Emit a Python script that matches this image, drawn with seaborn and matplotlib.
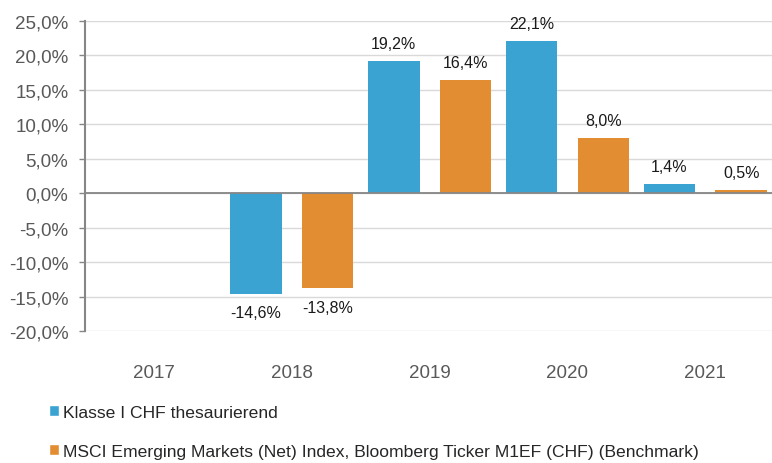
import matplotlib
matplotlib.use("Agg")
import matplotlib.pyplot as plt
import matplotlib.ticker as mticker
from matplotlib.patches import Patch
import seaborn as sns
import pandas as pd

years = ["2017", "2018", "2019", "2020", "2021"]
fund_name = "Klasse I CHF thesaurierend"
bench_name = "MSCI Emerging Markets (Net) Index, Bloomberg Ticker M1EF (CHF) (Benchmark)"
fund_values = [None, -14.6, 19.2, 22.1, 1.4]
bench_values = [None, -13.8, 16.4, 8.0, 0.5]

blue = "#3AA3D1"
orange = "#E38D33"

df = pd.DataFrame({
    "year": years * 2,
    "series": [fund_name] * len(years) + [bench_name] * len(years),
    "value": fund_values + bench_values,
})

sns.set_style("white")
plt.rcParams["font.family"] = ["Liberation Sans", "DejaVu Sans"]

fig = plt.figure(figsize=(7.72, 4.64), dpi=100)
ax = fig.add_axes([0.110, 0.284, 0.893, 0.669])

sns.barplot(data=df, x="year", y="value", hue="series", order=years,
            hue_order=[fund_name, bench_name], palette=[blue, orange],
            saturation=1, width=1.04, gap=0.28, linewidth=0,
            legend=False, ax=ax, zorder=2)

# data labels
for cont in ax.containers:
    for rect in cont:
        h = rect.get_height()
        if pd.isna(h):
            continue
        txt = f"{h:.1f}%".replace(".", ",")
        x = rect.get_x() + rect.get_width() / 2
        if h >= 0:
            ax.annotate(txt, (x, h), xytext=(0, 7), textcoords="offset points",
                        ha="center", va="bottom", fontsize=11.5, color="#1a1a1a")
        else:
            ax.annotate(txt, (x, h), xytext=(0, -8), textcoords="offset points",
                        ha="center", va="top", fontsize=11.5, color="#1a1a1a")

ax.set_ylim(-20, 25)
ax.set_xlim(-0.5, 4.5)
ax.yaxis.set_major_locator(mticker.MultipleLocator(5))
ax.yaxis.set_major_formatter(mticker.FuncFormatter(lambda v, p: f"{v:.1f}%".replace(".", ",")))
ax.grid(axis="y", color="#D9D9D9", linewidth=1)
ax.set_axisbelow(True)
ax.axhline(0, color="#868686", linewidth=1.3, zorder=3)

for s in ["top", "right", "bottom"]:
    ax.spines[s].set_visible(False)
ax.spines["left"].set_color("#868686")
ax.spines["left"].set_linewidth(1.5)

ax.tick_params(axis="y", left=True, length=4, width=1, color="#868686",
               labelsize=13.5, labelcolor="#595959", pad=8)
ax.tick_params(axis="x", bottom=False, labelsize=13.5, labelcolor="#595959", pad=20)
ax.set_xlabel("")
ax.set_ylabel("")

handles = [Patch(facecolor=blue), Patch(facecolor=orange)]
fig.legend(handles, [fund_name, bench_name], loc="upper left",
           bbox_to_anchor=(0.054, 0.14), frameon=False, fontsize=12.6,
           handlelength=0.6, handleheight=0.6, handletextpad=0.2,
           labelspacing=1.35, borderaxespad=0)

fig.savefig("out.png", dpi=100)
